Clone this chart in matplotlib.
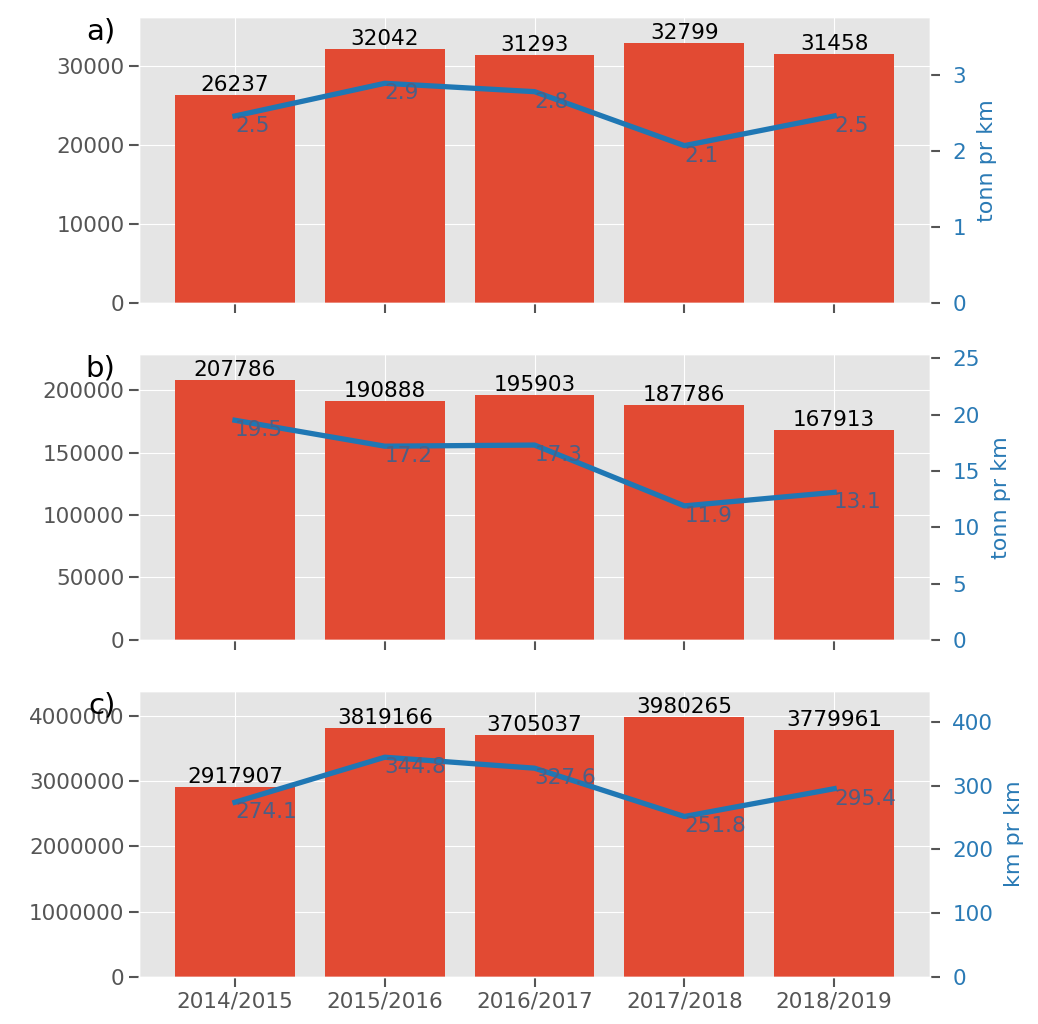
import numpy as np
import matplotlib
matplotlib.use('Agg')
from matplotlib import pyplot as plt

plt.style.use('ggplot')

seasons = ['2014/2015', '2015/2016', '2016/2017', '2017/2018', '2018/2019']

# a) tonn
tonn_a = [26237, 32042, 31293, 32799, 31458]
per_km_a = [2.46, 2.89, 2.78, 2.07, 2.46]
# b) tonn
tonn_b = [207786, 190888, 195903, 187786, 167913]
per_km_b = [19.5, 17.2, 17.3, 11.9, 13.1]
# c) km
km_c = [2917907, 3819166, 3705037, 3980265, 3779961]
per_km_c = [274.1, 344.8, 327.6, 251.8, 295.4]

panels = [
    ('a)', tonn_a, per_km_a, 'tonn pr km'),
    ('b)', tonn_b, per_km_b, 'tonn pr km'),
    ('c)', km_c, per_km_c, 'km pr km'),
]

fig, axes = plt.subplots(3, 1, figsize=(10.38, 10.24), dpi=100)
fig.subplots_adjust(left=0.134, right=0.896, top=0.983, bottom=0.046, hspace=0.18)

x = np.arange(len(seasons))
blue = '#1f77b4'
fs = 15.5

for i, (tag, bars, line, rlabel) in enumerate(panels):
    ax = axes[i]
    ax.bar(x, bars, width=0.8, color='#E24A33')
    for xi, v in zip(x, bars):
        ax.text(xi, v, str(v), ha='center', va='bottom', fontsize=fs, color='black')
    ax.set_ylim(0, max(bars) * 1.1)
    ax.set_xticks(x)
    if i == 2:
        ax.set_xticklabels(seasons)
    else:
        ax.set_xticklabels([])
    ax.tick_params(axis='both', labelsize=fs, length=7, width=1.5)
    ax.ticklabel_format(axis='y', style='plain', useOffset=False)
    ax.text(-0.03, 1.0, tag, transform=ax.transAxes, ha='right', va='top',
            fontsize=21, color='black')

    ax2 = ax.twinx()
    ax2.plot(x, line, color=blue, linewidth=3.8)
    for xi, v in zip(x, line):
        ax2.text(xi, v, '%.1f' % v, ha='left', va='top', fontsize=fs, color='#4c5f85')
    ax2.set_ylim(0, max(line) * 1.3)
    ax2.grid(False)
    ax2.tick_params(axis='y', labelcolor='#2a7ab5', labelsize=fs, length=7, width=1.5, pad=9)
    ax2.set_ylabel(rlabel, color='#2a7ab5', fontsize=16, labelpad=8)

plt.savefig('out.png', dpi=100)
